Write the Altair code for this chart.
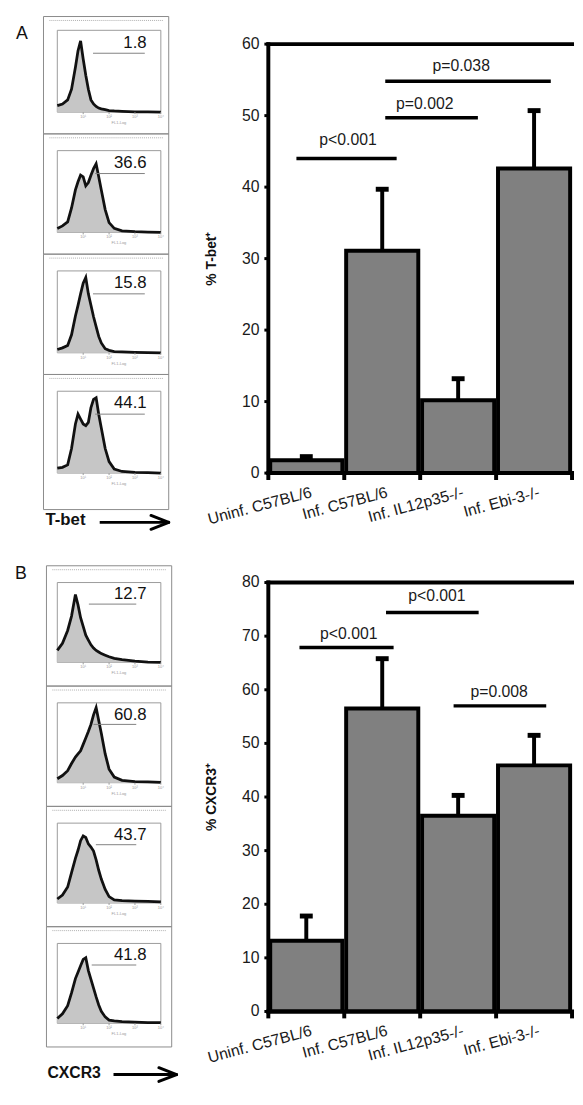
import altair as alt
import pandas as pd

FONT = "Liberation Sans"

# ---------------- data ----------------
categories = ["Uninf. C57BL/6", "Inf. C57BL/6", "Inf. IL12p35-/-", "Inf. Ebi-3-/-"]

tbet_mean = [1.8, 31.1, 10.2, 42.6]
tbet_err = [0.5, 8.6, 3.0, 8.1]
cxcr3_mean = [13.2, 56.5, 36.5, 45.9]
cxcr3_err = [4.6, 9.3, 3.8, 5.6]

tbet_ticks = [0, 10, 20, 30, 40, 50, 60]
cxcr3_ticks = [0, 10, 20, 30, 40, 50, 60, 70, 80]

sigA_from = [0.37, 1.54, 1.54]
sigA_to = [1.69, 2.76, 3.72]
sigA_level = [44.0, 49.7, 54.8]
sigA_text = ["p<0.001", "p=0.002", "p=0.038"]
sigA_text_x = [1.05, 2.06, 2.54]
sigA_text_y = [46.6, 51.6, 56.9]

sigB_from = [0.41, 1.55, 2.44]
sigB_to = [1.65, 2.77, 3.66]
sigB_level = [67.9, 74.4, 57.0]
sigB_text = ["p<0.001", "p<0.001", "p=0.008"]
sigB_text_x = [1.06, 2.22, 3.04]
sigB_text_y = [70.3, 77.4, 59.5]

hist_x = [0, 0.2, 0.4, 0.55, 0.7, 0.8, 0.9, 1.0, 1.1, 1.2, 1.3, 1.4, 1.5,
          1.6, 1.7, 1.85, 2.0, 2.2, 2.5, 3.0, 3.5, 4.0]
tbet_hist = [
    [8, 10, 15, 28, 55, 75, 87, 65, 45, 28, 15, 10, 7, 5, 4, 3, 2, 1.5, 1, 0.5, 0.3, 0],
    [5, 8, 13, 30, 52, 62, 70, 68, 57, 61, 70, 78, 84, 68, 52, 28, 12, 5, 2, 1, 0.5, 0],
    [4, 6, 9, 22, 45, 58, 72, 85, 92, 72, 58, 44, 32, 20, 12, 5, 3, 1.5, 1, 0.5, 0.3, 0],
    [6, 7, 10, 30, 60, 72, 66, 60, 58, 62, 80, 90, 92, 72, 55, 30, 14, 5, 2, 1, 0.5, 0],
]
tbet_pct = ["1.8", "36.6", "15.8", "44.1"]
tbet_gate_start = [1.38, 1.46, 1.38, 1.46]
tbet_gate_end = 3.38

cxcr3_hist = [
    [15, 24, 40, 58, 85, 72, 56, 45, 34, 28, 22, 18, 15, 13, 11, 9, 7, 5, 3.5, 1.5, 0.5, 0],
    [5, 9, 15, 24, 32, 36, 40, 48, 56, 64, 73, 85, 94, 78, 62, 36, 17, 7, 3, 1.5, 1, 0.5],
    [5, 10, 20, 38, 56, 66, 78, 84, 82, 74, 70, 65, 54, 41, 30, 17, 8, 4, 3, 2.5, 2, 1.5],
    [6, 12, 22, 38, 56, 64, 72, 80, 82, 66, 55, 44, 33, 23, 15, 8, 4, 3, 2, 1.5, 1, 1],
]
cxcr3_pct = ["12.7", "60.8", "43.7", "41.8"]
cxcr3_gate_start = [1.22, 1.4, 1.49, 1.33]
cxcr3_gate_end = 3.05

decade_ticks = [1, 2, 3, 4]

# ---------------- layout constants ----------------
HIST_W = 105
BAR_W = 308
ONE = pd.DataFrame({"k": [0]})


def hist_panel(ys, pct, gstart, gend, gy, hf, cell_h, box, extras):
    df = pd.DataFrame({"x": hist_x, "y": ys})
    xs = alt.Scale(domain=[0, 4], nice=False, zero=False)
    yscale = alt.Scale(domain=[0, 100], nice=False, range=[hf, 0])
    area = alt.Chart(df).mark_area(color="#c6c6c6", interpolate="linear").encode(
        x=alt.X("x:Q", scale=xs, axis=None),
        y=alt.Y("y:Q", scale=yscale, axis=None))
    line = alt.Chart(df).mark_line(color="#111", strokeWidth=2.8, interpolate="linear").encode(
        x=alt.X("x:Q", axis=None), y=alt.Y("y:Q", axis=None))
    gdf = pd.DataFrame({"g1": [gstart], "g2": [gend], "gy": [gy], "lab": [pct],
                        "tx": [3.45], "ty": [85]})
    gate = alt.Chart(gdf).mark_rule(color="#808080", strokeWidth=1).encode(
        x=alt.X("g1:Q", axis=None), x2="g2:Q", y=alt.Y("gy:Q", axis=None))
    num = alt.Chart(gdf).mark_text(align="right", baseline="middle", fontSize=17,
                                   font=FONT, color="#111").encode(
        x=alt.X("tx:Q", axis=None), y=alt.Y("ty:Q", axis=None), text="lab:N")
    tdf = pd.DataFrame({"t": decade_ticks,
                        "lab": ["10\u00b9", "10\u00b2", "10\u00b3", "10\u2074"]})
    ticks = alt.Chart(tdf).mark_rule(color="#999", strokeWidth=1).encode(
        x=alt.X("t:Q", axis=None), y=alt.value(hf), y2=alt.value(hf + 2))
    tlab = alt.Chart(tdf).mark_text(fontSize=4, color="#999", baseline="top").encode(
        x=alt.X("t:Q", axis=None), y=alt.value(hf + 3), text="lab:N")
    xtitle = alt.Chart(ONE).mark_text(fontSize=4, color="#999", baseline="top").encode(
        x=alt.value(HIST_W / 2 + 10), y=alt.value(hf + 9), text=alt.value("FL1-Log"))
    frame = alt.Chart(ONE).mark_rect(fillOpacity=0, stroke="#9a9a9a", strokeWidth=1).encode(
        x=alt.value(0), x2=alt.value(HIST_W), y=alt.value(0), y2=alt.value(hf))
    bl, br, bt, bb = box
    outer = alt.Chart(ONE).mark_rect(fillOpacity=0, stroke="#8a8a8a", strokeWidth=1).encode(
        x=alt.value(bl), x2=alt.value(br), y=alt.value(bt), y2=alt.value(bb))
    header = alt.Chart(ONE).mark_rule(color="#b0b0b0", strokeWidth=1, strokeDash=[1, 1]).encode(
        x=alt.value(bl + 6), x2=alt.value(br - 6), y=alt.value(bt + 4))
    layers = [outer, header, frame, area, line, gate, num, ticks, tlab, xtitle] + extras
    return alt.layer(*layers).properties(width=HIST_W, height=cell_h)


def bar_panel(means, errs, yticks, y_range, title, s_from, s_to, s_level,
              s_text, s_tx, s_ty, cell_h):
    n = len(categories)
    top_val = yticks[-1]
    df = pd.DataFrame({"i": list(range(n)), "cat": categories, "mean": means, "err": errs})
    xs = alt.Scale(domain=[0, n], nice=False, zero=False)
    ys = alt.Scale(domain=[0, top_val], nice=False, range=y_range)
    base = alt.Chart(df).transform_calculate(
        x0="datum.i + 0.025", x1="datum.i + 0.975", xc="datum.i + 0.5",
        top="datum.mean + datum.err", cl="datum.i + 0.415", cr="datum.i + 0.585")

    def X(f):
        return alt.X(f, type="quantitative", axis=None)

    def Y(f):
        return alt.Y(f, type="quantitative", axis=None)

    bars = base.mark_rect(fill="#808080", stroke="black", strokeWidth=4).encode(
        x=alt.X("x0:Q", scale=xs, axis=None), x2="x1:Q",
        y=alt.Y("mean:Q", scale=ys, axis=None), y2=alt.datum(0))
    stems = base.mark_rule(color="black", strokeWidth=4).encode(
        x=X("xc"), y=Y("mean"), y2="top:Q")
    caps = base.mark_rule(color="black", strokeWidth=5).encode(
        x=X("cl"), x2="cr:Q", y=Y("top"))
    labels = base.mark_text(angle=345, align="right", baseline="top", dy=12,
                            fontSize=16, font=FONT, color="#1a1a1a").encode(
        x=X("xc"), y=alt.datum(0), text="cat:N")
    # y ticks and labels
    tdf = pd.DataFrame({"v": yticks})
    yt = alt.Chart(tdf).mark_rule(color="black", strokeWidth=3).encode(
        y=Y("v"), x=alt.value(-4), x2=alt.value(0))
    yl = alt.Chart(tdf).mark_text(align="right", baseline="middle", fontSize=16,
                                  font=FONT, color="#1a1a1a").encode(
        y=Y("v"), x=alt.value(-9), text="v:Q")
    # x ticks at category boundaries
    xdf = pd.DataFrame({"b": list(range(n + 1))})
    xt = alt.Chart(xdf).mark_rule(color="black", strokeWidth=4).encode(
        x=X("b"), y=alt.value(y_range[0]), y2=alt.value(y_range[0] + 7))
    ytitle = alt.Chart(ONE).mark_text(angle=270, align="center", baseline="middle",
                                      fontSize=14, fontWeight="bold", font=FONT,
                                      color="#111").encode(
        x=alt.value(-57), y=alt.value((y_range[0] + y_range[1]) / 2), text=alt.value(title))
    fdf = pd.DataFrame({"a": [0], "b": [n], "lo": [0], "hi": [top_val]})
    fr = alt.Chart(fdf)
    left = fr.mark_rule(color="black", strokeWidth=4, strokeCap="square").encode(
        x=X("a"), y=Y("lo"), y2="hi:Q")
    topl = fr.mark_rule(color="black", strokeWidth=4, strokeCap="square").encode(
        x=X("a"), x2="b:Q", y=Y("hi"))
    bottom = fr.mark_rule(color="black", strokeWidth=4, strokeCap="square").encode(
        x=X("a"), x2="b:Q", y=Y("lo"))
    sdf = pd.DataFrame({"s1": s_from, "s2": s_to, "sl": s_level, "txt": s_text,
                        "tx": s_tx, "ty": s_ty})
    sig = alt.Chart(sdf).mark_rule(color="black", strokeWidth=3.5).encode(
        x=X("s1"), x2="s2:Q", y=Y("sl"))
    sigt = alt.Chart(sdf).mark_text(fontSize=16, font=FONT, color="#1a1a1a",
                                    baseline="middle").encode(
        x=X("tx"), y=Y("ty"), text="txt:N")
    return alt.layer(bars, stems, caps, left, topl, bottom, xt, yt, yl, ytitle,
                     sig, sigt, labels).properties(width=BAR_W, height=cell_h)


def filler():
    return alt.Chart(ONE).mark_point(opacity=0, size=1).encode(
        x=alt.value(0), y=alt.value(0)).properties(width=BAR_W, height=1)


def letter(txt, x, y):
    return alt.Chart(ONE).mark_text(fontSize=18, font=FONT, color="#111",
                                    align="center", baseline="middle").encode(
        x=alt.value(x), y=alt.value(y), text=alt.value(txt))


def arrow_label(txt, tx, ty, size, x1, x2, ay, wing):
    t = alt.Chart(ONE).mark_text(fontSize=size, font=FONT, fontWeight="bold", color="#111",
                                 align="left", baseline="middle").encode(
        x=alt.value(tx), y=alt.value(ty), text=alt.value(txt))
    shaft = alt.Chart(ONE).mark_rule(color="black", strokeWidth=3).encode(
        x=alt.value(x1), x2=alt.value(x2), y=alt.value(ay))
    w1 = alt.Chart(ONE).mark_rule(color="black", strokeWidth=3, strokeCap="round").encode(
        x=alt.value(x2), x2=alt.value(x2 - 18), y=alt.value(ay), y2=alt.value(ay - wing))
    w2 = alt.Chart(ONE).mark_rule(color="black", strokeWidth=3, strokeCap="round").encode(
        x=alt.value(x2), x2=alt.value(x2 - 18), y=alt.value(ay), y2=alt.value(ay + wing))
    return [t, shaft, w1, w2]


# ---------------- grid ----------------
HA = 83          # T-bet histogram frame height
HB = 81          # CXCR3 histogram frame height
PITCH = 122      # distance between histogram frames
GAP_AB = 194     # frame A4 top -> frame B1 top

cells = []
# panel A
for k in range(4):
    cell_h = PITCH if k < 3 else GAP_AB
    box = (-14, HIST_W + 8, -14 if k == 0 else -17, HA + 22 if k < 3 else HA + 37)
    extras = []
    if k == 0:
        extras = [letter("A", -36, 4)]
    if k == 3:
        extras = arrow_label("T-bet", -12, 131, 17, 43, 113, 133, 7)
    cells.append(hist_panel(tbet_hist[k], tbet_pct[k], tbet_gate_start[k], tbet_gate_end,
                            72, HA, cell_h, box, extras))
    if k == 0:
        cells.append(bar_panel(tbet_mean, tbet_err, tbet_ticks, [449, 14], "% T-bet\u207a",
                               sigA_from, sigA_to, sigA_level, sigA_text,
                               sigA_text_x, sigA_text_y, PITCH))
    else:
        cells.append(filler())
# panel B
for k in range(4):
    cell_h = PITCH if k < 3 else HB
    box = (-11, HIST_W + 11, -17, HB + 24)
    extras = []
    if k == 0:
        extras = [letter("B", -37, -9)]
    if k == 3:
        extras = arrow_label("CXCR3", -10, 131, 16, 57, 121, 133, 7)
    cells.append(hist_panel(cxcr3_hist[k], cxcr3_pct[k], cxcr3_gate_start[k], cxcr3_gate_end,
                            73, HB, cell_h, box, extras))
    if k == 0:
        cells.append(bar_panel(cxcr3_mean, cxcr3_err, cxcr3_ticks, [435, 0], "% CXCR3\u207a",
                               sigB_from, sigB_to, sigB_level, sigB_text,
                               sigB_text_x, sigB_text_y, PITCH))
    else:
        cells.append(filler())

chart = alt.concat(*cells, columns=2, spacing={"row": 0, "column": 109},
                   bounds="flush", align="each").properties(
    padding={"left": 6, "top": 0, "right": 0, "bottom": 0}
).configure(font=FONT, background="white").configure_view(strokeWidth=0, stroke="white")

chart.save("out.html", embed_options={"renderer": "svg", "actions": False})
